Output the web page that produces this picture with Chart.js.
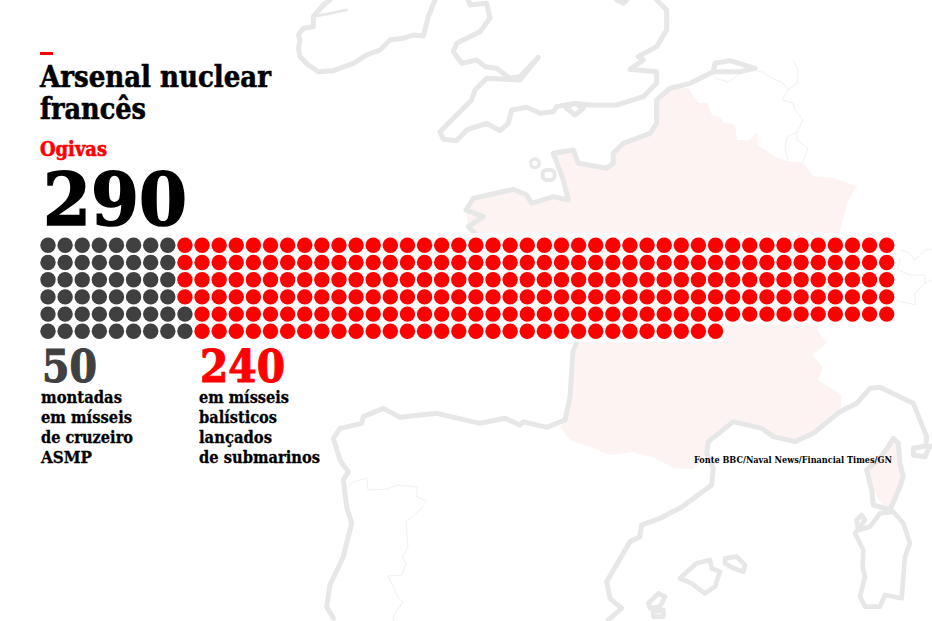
<!DOCTYPE html>
<html>
<head>
<meta charset="utf-8">
<title>Arsenal nuclear francês</title>
<script src="https://cdn.jsdelivr.net/npm/chart.js@4"></script>
<style>
	body { margin: 0; background: #fff; }
	#wrap { position: relative; width: 932px; height: 621px; overflow: hidden; }
	#wrap svg, #wrap canvas { position: absolute; left: 0; top: 0; }
	.coast { fill: none; stroke: #e7e7e7; stroke-linejoin: round; stroke-linecap: round; filter: blur(.5px); }
	.border { fill: none; stroke: #f1f1f1; }
	text { font-family: "DejaVu Serif", serif; font-weight: 700; fill: #000; stroke: #000; stroke-width: .3px; }
	text.head { stroke-width: .6px; }
	text.red { fill: #f00; stroke: #f00; }
	text.dark { fill: #404040; stroke: #404040; }
	text.big { stroke-width: 1.6px; }
	text.mid { stroke-width: 1.1px; }
	text.src { stroke-width: 0; }
</style>
</head>
<body>
<div id="wrap">
	<svg width="932" height="621" viewBox="0 0 932 621">
		<!-- background map, traced by eye -->
		<path fill="#fdf3f2" d="M466,210 473,198 513,189 527,195 532,203 553,197 568,200 563,180 553,153 573,150 578,163 607,168 613,163 613,153 623,143 650,133 657,123 657,100 670,88 688,88 698,103 707,103 712,115 720,117 723,122 735,125 737,140 750,140 757,132 758,145 775,157 787,161 803,163 813,176 833,178 857,186 847,203 840,233 830,290 817,330 827,343 812,355 823,367 818,380 842,395 840,410 813,433 795,442 773,437 762,428 733,422 708,442 707,455 693,469 673,468 655,458 632,452 610,455 593,448 570,440 560,427 565,420 570,397 578,338 575,322 555,288 548,272 522,248 482,235 468,227Z"/>
		<path fill="#fdf3f2" d="M893,438 899,443 900,463 903,477 900,487 888,511 877,497 872,484 866,470 871,460 880,457 887,450 887,443Z"/>
		<g class="border">
			<path d="M713,73 715,78 728,82 743,72 753,70 762,72 772,78 783,83 788,90 797,83 798,70 793,60"/>
			<path d="M788,90 782,100 793,103 795,110 803,120 797,132 787,137 785,147 788,160"/>
			<path d="M797,132 797,140 808,148 803,162"/>
			<path d="M900,250 908,252 915,260 925,250 932,249M900,258 898,270 910,275 925,275 925,283 932,280M925,283 915,293 915,305 903,302 895,300"/>
			<path d="M348,487 353,482 367,478 368,490 387,489 397,485 417,487 417,497 427,501 420,510 406,522 408,547 402,557 406,563 402,575 388,576 398,597 403,602 394,615 393,621"/>
		</g>
		<g class="coast" transform="translate(280 0) scale(.3333)" style="stroke-width:15">
			<path d="M465,0 445,50 435,90 430,108 400,105 370,115 330,120 300,150 260,165 220,190 160,212 115,215 85,195 60,170 55,145 60,120 55,105 70,85 100,80 100,50 130,15 150,0"/>
			<path d="M100,50 150,40 200,30" style="stroke-width:8"/>
			<path d="M565,0 570,15 620,10 630,55 600,95 530,130 520,155 545,190 590,180 615,200 650,205 690,235 720,230 775,172 720,240 620,235 585,270 575,300 480,395 490,418 530,422 560,390 620,370 660,392 685,370 695,330 740,322 780,340 820,335 830,320 885,310 910,325 885,345 860,325 880,310 930,315 1010,315 1090,290 1130,250 1130,215 1050,208 1090,180 1075,170 1130,140 1160,90 1160,30 1130,0"/>
			<path d="M1010,0 1030,10 1040,0"/>
			<path d="M600,715 565,680 610,650 558,630 580,595 700,568 740,585 755,610 820,590 865,600 850,540 820,460 880,450 895,490 980,505 1000,490 1000,460 1030,430 1110,400 1130,370 1130,300 1170,265 1230,250 1300,215 1305,190 1350,182 1425,205 1380,215 1305,215"/>
			<circle cx="765" cy="490" r="13" style="stroke-width:10"/>
			<rect x="788" y="510" width="36" height="30" rx="12" style="stroke-width:12"/>
		</g>
		<path class="coast" stroke-width="5" d="M482,235 522,248 548,272 555,288 575,322 578,338 573,352 570,397 565,420"/>
		<g class="coast" transform="translate(640 330) scale(.3333)" style="stroke-width:15">
			<path d="M876,348 868,350 855,380 820,375 820,355 858,348 860,320 820,220 720,172 690,175 650,220 600,245 520,310 465,335 400,320 365,295 280,275 205,335 200,370 220,415 215,465 120,535"/>
			<path d="M760,325 775,340 780,400 790,440 780,470 750,540 700,525 695,480 680,420 720,385 745,350Z"/>
		</g>
		<g class="coast" transform="translate(320 340) scale(.3333)" style="stroke-width:15">
			<path d="M735,240 680,262 610,245 600,255 555,235 480,250 350,220 240,232 190,205 130,230 125,250 60,265 40,295 60,360 70,375 85,395 70,420 80,500 95,550 70,650 30,735 20,800 40,835"/>
			<path d="M1080,504 1020,535 965,555 960,590 930,605 860,725 870,775 905,805 865,840"/>
		</g>
		<g class="coast" transform="translate(560 500) scale(.3333)" style="stroke-width:14">
			<path d="M360,235 410,190 450,180 455,205 480,215 465,260 435,280 395,250Z"/>
			<path d="M495,175 530,170 555,195 550,215 520,205 495,190Z"/>
			<path d="M265,310 295,280 315,290 300,320 270,325Z"/>
			<path d="M280,335 310,330 310,350 280,350Z"/>
			<path d="M1000,35 960,40 930,80 895,90 890,60 905,45 915,60 885,100 910,150 908,200 915,230 900,290 915,320 960,320 975,285 1025,295 1035,170 1050,130 1030,70Z"/>
		</g>
		<!-- pale box behind the dots -->
		<path d="M38,233 H897 V325 H726 V342 H38Z" fill="#fff" opacity=".72"/>

		<rect x="40" y="52" width="13" height="3" fill="#f00"/>
		<text class="head" x="40" y="87" font-size="29" textLength="231" lengthAdjust="spacingAndGlyphs">Arsenal nuclear</text>
		<text class="head" x="40" y="119" font-size="29" textLength="106" lengthAdjust="spacingAndGlyphs">francês</text>
		<text class="head red" x="40" y="156" font-size="20" textLength="67" lengthAdjust="spacingAndGlyphs">Ogivas</text>
		<text class="big" x="43" y="224.5" font-size="73" textLength="144" lengthAdjust="spacingAndGlyphs">290</text>
		<text class="mid dark" x="42" y="381.5" font-size="45" textLength="55" lengthAdjust="spacingAndGlyphs">50</text>
		<text class="mid red" x="200" y="381.5" font-size="45" textLength="85" lengthAdjust="spacingAndGlyphs">240</text>
		<text x="41" y="403" font-size="16" textLength="81" lengthAdjust="spacingAndGlyphs">montadas</text>
		<text x="41" y="423" font-size="16" textLength="91" lengthAdjust="spacingAndGlyphs">em mísseis</text>
		<text x="41" y="443" font-size="16" textLength="92" lengthAdjust="spacingAndGlyphs">de cruzeiro</text>
		<text x="41" y="463" font-size="16" textLength="51" lengthAdjust="spacingAndGlyphs">ASMP</text>
		<text x="199" y="403" font-size="16" textLength="90" lengthAdjust="spacingAndGlyphs">em mísseis</text>
		<text x="199" y="423" font-size="16" textLength="78" lengthAdjust="spacingAndGlyphs">balísticos</text>
		<text x="199" y="443" font-size="16" textLength="73" lengthAdjust="spacingAndGlyphs">lançados</text>
		<text x="199" y="463" font-size="16" textLength="121" lengthAdjust="spacingAndGlyphs">de submarinos</text>
		<text class="src" x="694" y="463" font-size="9" textLength="198" lengthAdjust="spacingAndGlyphs">Fonte BBC/Naval News/Financial Times/GN</text>
	</svg>
	<canvas id="OgivasChart" width="932" height="621"></canvas>
</div>
<script>
// dots per row, top row first
const seriesNames = ['montadas em mísseis de cruzeiro ASMP','em mísseis balísticos lançados de submarinos'];
const cruiseRow = [8,8,8,8,9,9];
const subRow = [42,42,42,42,41,31];

function rowPoints(counts, startCounts) {
	const pts = [];
	counts.forEach(function (n, row) {
		const first = startCounts ? startCounts[row] : 0;
		for (let i = 0; i < n; i++) pts.push({x: first + i, y: row});
	});
	return pts;
}

new Chart(document.getElementById('OgivasChart'), {
	type: 'scatter',
	data: {
		datasets: [{
			label: seriesNames[0],
			data: rowPoints(cruiseRow),
			backgroundColor: '#404040',
			borderWidth: 0,
			pointRadius: 7.7
		}, {
			label: seriesNames[1],
			data: rowPoints(subRow, cruiseRow),
			backgroundColor: '#ff0000',
			borderWidth: 0,
			pointRadius: 7.7
		}]
	},
	options: {
		responsive: false,
		animation: false,
		events: [],
		layout: { padding: 0, autoPadding: false },
		plugins: {
			legend: { display: false },
			tooltip: { enabled: false }
		},
		scales: {
			// ranges chosen so one column/row step is about 17px on the 932x621 canvas
			x: { display: false, min: -2.804, max: 51.647 },
			y: { display: false, reverse: true, min: -14.26, max: 21.84 }
		}
	}
});
</script>
</body>
</html>
